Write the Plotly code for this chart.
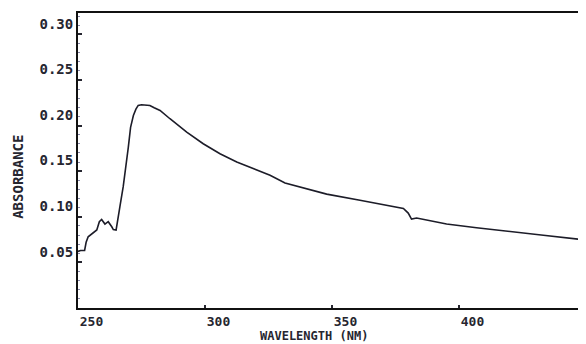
import plotly.graph_objects as go

wavelength = [250, 251, 252.6, 253.2, 254, 256, 257.4, 258.4, 259.3, 260.6, 261.9, 263.3, 263.9,
              265.0, 265.5, 266.5, 267.8, 268.9, 269.8, 270.7, 271.8, 272.8, 273.7, 275, 277, 278.3,
              280, 282.3, 286.2, 292.8, 299.3, 305.9, 312.5, 319, 325.6, 331.5, 341.3, 347.9, 361,
              374.1, 378.1, 380.0, 381.3, 383.3, 395.1, 406.9, 420.1, 433.2, 449.6]
absorbance = [0.062, 0.063, 0.063, 0.072, 0.078, 0.082, 0.0855, 0.0946, 0.097, 0.092, 0.0946, 0.089,
              0.086, 0.0855, 0.096, 0.111, 0.133, 0.155, 0.176, 0.198, 0.211, 0.218, 0.222, 0.2227,
              0.2225, 0.222, 0.2195, 0.2165, 0.2074, 0.1928, 0.180, 0.169, 0.160, 0.1528, 0.1455,
              0.137, 0.130, 0.1248, 0.118, 0.1117, 0.109, 0.104, 0.0975, 0.0986, 0.092, 0.088,
              0.0836, 0.0797, 0.0746]

x_ticks = [250, 300, 350, 400]
x_ticklabels = ["250", "300", "350", "400"]
y_ticks = [0.05, 0.10, 0.15, 0.20, 0.25, 0.30]
y_ticklabels = ["0.05", "0.10", "0.15", "0.20", "0.25", "0.30"]

FONT = "DejaVu Sans Mono"
INK = "#262630"
FS = 14

fig = go.Figure()
fig.add_trace(go.Scatter(x=wavelength, y=absorbance, mode="lines",
                         line=dict(color="#1c1c28", width=1.6), showlegend=False,
                         hoverinfo="skip"))

# page body has an 8px default margin, so the figure is sized/offset to compensate
fig.update_layout(
    width=578, height=336,
    margin=dict(l=70, r=2, t=5, b=36),
    paper_bgcolor="white", plot_bgcolor="white",
    font=dict(family=FONT, size=FS, color=INK, weight="bold"),
    xaxis=dict(range=[250, 449.2], tickvals=x_ticks, ticktext=x_ticklabels,
               ticks="inside", ticklen=3, tickwidth=1.5, tickcolor=INK,
               ticklabelposition="outside right", automargin=False, ticklabelstandoff=0,
               showline=True, linecolor="#111", linewidth=2, mirror=True,
               showgrid=False, zeroline=False,
               tickfont=dict(family=FONT, size=13, color=INK, weight="bold")),
    yaxis=dict(range=[0, 0.3233], tickvals=y_ticks, ticktext=y_ticklabels,
               ticks="inside", ticklen=4, tickwidth=1.5, tickcolor=INK,
               ticklabelposition="outside top", automargin=False,
               minor=dict(ticks="inside", ticklen=2, dtick=0.01, tickcolor="#8888aa", tickwidth=1),
               showline=True, linecolor="#111", linewidth=2, mirror=True,
               showgrid=False, zeroline=False,
               tickfont=dict(family=FONT, size=FS, color=INK, weight="bold")),
)

fig.add_annotation(text="ABSORBANCE", xref="paper", yref="paper",
                   x=-0.119, y=0.444, textangle=-90, showarrow=False,
                   xanchor="center", yanchor="middle",
                   font=dict(family=FONT, size=FS, color=INK, weight="bold"))
fig.add_annotation(text="WAVELENGTH (NM)", xref="paper", yref="paper",
                   x=0.466, y=-0.121, showarrow=False, xanchor="center", yanchor="bottom",
                   borderpad=0,
                   font=dict(family=FONT, size=12, color=INK, weight="bold"))

fig.write_html("out.html")
